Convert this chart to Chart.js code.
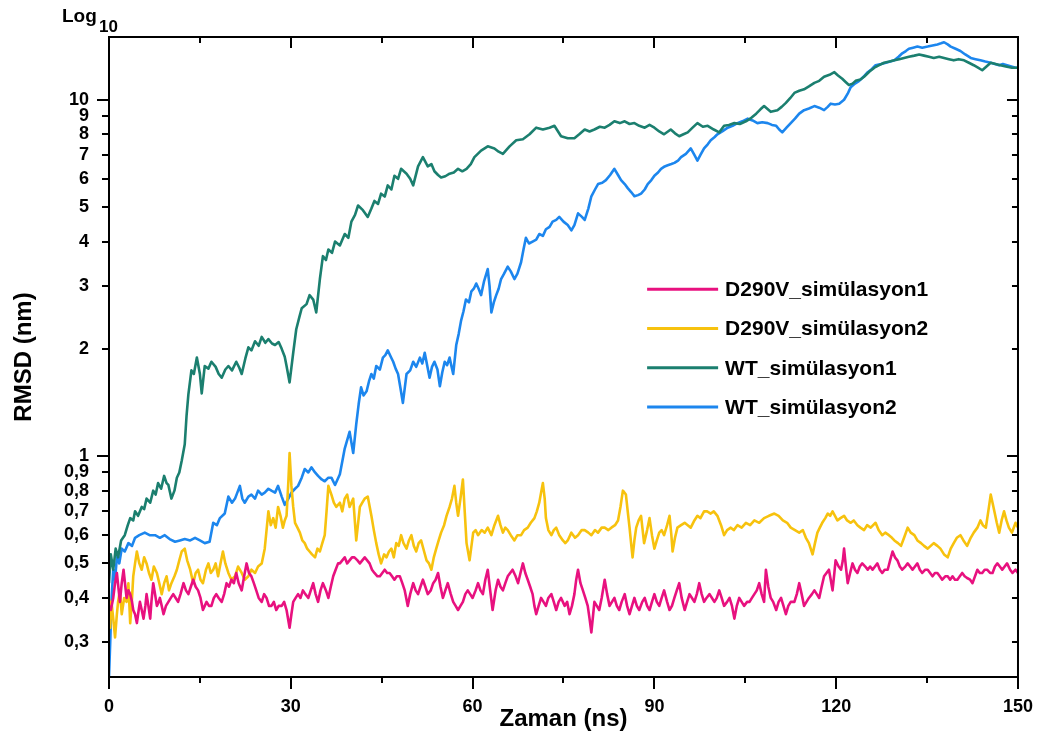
<!DOCTYPE html>
<html>
<head>
<meta charset="utf-8">
<script src="https://cdn.jsdelivr.net/npm/chart.js@4.4.1/dist/chart.umd.min.js"></script>
<style>
    html, body { margin: 0; padding: 0; background: #fff; }
</style>
</head>
<body>
<canvas id="rmsd-chart" width="1040" height="740"></canvas>
<script>
// RMSD (nm) vs time (ns) as [ns, nm] pairs
const d290vSim1 = [[0,0.38],[0.3,0.37],[0.7,0.40],[1.0,0.44],[1.3,0.47],[1.6,0.42],[1.8,0.39],[2.1,0.44],[2.4,0.48],[2.7,0.43],[2.9,0.40],[3.2,0.42],[3.5,0.41],[3.8,0.39],[4.0,0.37],[4.3,0.36],[4.6,0.34],[4.9,0.37],[5.1,0.39],[5.4,0.37],[5.7,0.35],[6.0,0.38],[6.2,0.41],[6.5,0.38],[6.8,0.35],[7.0,0.39],[7.3,0.44],[7.6,0.41],[7.9,0.38],[8.2,0.39],[8.4,0.40],[8.7,0.38],[9.0,0.36],[9.4,0.38],[9.8,0.39],[10.2,0.40],[10.6,0.41],[11.0,0.40],[11.4,0.39],[11.8,0.41],[12.3,0.44],[12.7,0.42],[13.1,0.41],[13.5,0.43],[13.9,0.45],[14.3,0.43],[14.7,0.42],[15.1,0.40],[15.5,0.37],[15.8,0.38],[16.1,0.39],[16.5,0.38],[16.9,0.38],[17.3,0.40],[17.7,0.41],[18.1,0.40],[18.6,0.39],[19.0,0.41],[19.4,0.44],[19.8,0.43],[20.2,0.45],[20.6,0.44],[21.0,0.47],[21.4,0.44],[21.9,0.42],[22.3,0.46],[22.7,0.50],[23.1,0.47],[23.5,0.46],[23.9,0.44],[24.3,0.42],[24.7,0.40],[25.2,0.39],[25.6,0.41],[26.0,0.40],[26.4,0.38],[26.8,0.38],[27.2,0.39],[27.6,0.37],[28.0,0.38],[28.5,0.38],[28.9,0.39],[29.3,0.37],[29.8,0.33],[30.1,0.36],[30.4,0.39],[30.8,0.40],[31.2,0.41],[31.6,0.40],[32.0,0.42],[32.4,0.41],[32.9,0.40],[33.3,0.42],[33.7,0.44],[34.1,0.41],[34.5,0.39],[34.9,0.42],[35.3,0.44],[35.8,0.42],[36.2,0.40],[36.6,0.43],[37.0,0.46],[37.4,0.48],[37.8,0.50],[38.1,0.50],[38.5,0.51],[38.9,0.52],[39.3,0.50],[39.7,0.51],[40.1,0.52],[40.5,0.52],[41.0,0.51],[41.4,0.50],[41.8,0.51],[42.2,0.52],[42.6,0.51],[43.0,0.50],[43.4,0.48],[43.8,0.47],[44.3,0.46],[44.7,0.46],[45.1,0.47],[45.5,0.48],[45.9,0.47],[46.3,0.47],[46.7,0.46],[47.1,0.45],[47.5,0.46],[48.0,0.46],[48.4,0.44],[48.8,0.42],[49.3,0.38],[49.7,0.41],[50.2,0.44],[50.6,0.42],[51.0,0.41],[51.4,0.43],[51.8,0.45],[52.2,0.43],[52.6,0.41],[53.1,0.42],[53.5,0.44],[53.9,0.45],[54.3,0.47],[54.7,0.43],[55.1,0.40],[55.5,0.42],[55.9,0.44],[56.4,0.41],[56.8,0.39],[57.2,0.38],[57.6,0.37],[58.0,0.38],[58.4,0.39],[58.8,0.41],[59.2,0.42],[59.6,0.41],[60.0,0.40],[60.5,0.42],[60.9,0.44],[61.3,0.42],[61.7,0.41],[62.1,0.45],[62.5,0.48],[62.9,0.42],[63.3,0.37],[63.8,0.42],[64.2,0.45],[64.6,0.43],[65.0,0.42],[65.4,0.44],[65.8,0.46],[66.2,0.47],[66.6,0.48],[67.1,0.46],[67.5,0.44],[67.9,0.47],[68.3,0.50],[68.7,0.47],[69.1,0.45],[69.5,0.43],[69.9,0.41],[70.2,0.38],[70.5,0.36],[70.9,0.38],[71.3,0.40],[71.7,0.39],[72.1,0.38],[72.5,0.40],[73.0,0.41],[73.4,0.39],[73.8,0.37],[74.2,0.39],[74.6,0.40],[75.2,0.38],[75.6,0.39],[76.0,0.36],[76.4,0.38],[76.8,0.41],[77.1,0.45],[77.4,0.48],[77.8,0.44],[78.2,0.42],[78.6,0.40],[79.0,0.38],[79.3,0.35],[79.6,0.32],[79.9,0.36],[80.1,0.39],[80.5,0.38],[80.9,0.37],[81.3,0.40],[81.8,0.45],[82.2,0.41],[82.6,0.38],[83.0,0.39],[83.4,0.40],[83.8,0.38],[84.2,0.37],[84.6,0.39],[85.1,0.41],[85.5,0.38],[85.9,0.36],[86.3,0.38],[86.7,0.40],[87.1,0.38],[87.5,0.37],[88.0,0.39],[88.4,0.40],[88.8,0.38],[89.2,0.37],[89.6,0.39],[90.0,0.41],[90.4,0.39],[90.8,0.38],[91.2,0.40],[91.6,0.42],[92.1,0.39],[92.5,0.37],[92.9,0.38],[93.3,0.40],[93.7,0.42],[94.1,0.44],[94.5,0.40],[95.0,0.37],[95.4,0.39],[95.8,0.41],[96.2,0.40],[96.6,0.39],[97.0,0.41],[97.4,0.44],[97.8,0.41],[98.2,0.39],[98.6,0.40],[99.1,0.41],[99.5,0.40],[99.9,0.39],[100.3,0.40],[100.7,0.42],[101.1,0.40],[101.5,0.38],[102.0,0.39],[102.4,0.40],[102.8,0.38],[103.2,0.35],[103.6,0.38],[104.0,0.40],[104.4,0.39],[104.8,0.38],[105.3,0.39],[105.7,0.39],[106.1,0.40],[106.5,0.41],[106.9,0.42],[107.3,0.44],[107.7,0.41],[108.1,0.39],[108.4,0.48],[108.8,0.43],[109.2,0.40],[109.6,0.39],[110.1,0.37],[110.5,0.39],[110.9,0.40],[111.3,0.38],[111.7,0.36],[112.1,0.38],[112.5,0.39],[113.1,0.39],[113.5,0.41],[113.9,0.44],[114.3,0.41],[114.7,0.38],[115.1,0.39],[115.5,0.40],[116.0,0.41],[116.4,0.42],[116.8,0.41],[117.2,0.40],[117.6,0.43],[118.0,0.46],[118.4,0.47],[118.8,0.48],[119.1,0.45],[119.4,0.42],[119.7,0.47],[119.9,0.51],[120.4,0.49],[120.8,0.48],[121.1,0.51],[121.3,0.55],[121.6,0.49],[121.9,0.44],[122.3,0.47],[122.7,0.50],[123.1,0.48],[123.5,0.47],[123.9,0.49],[124.3,0.50],[124.8,0.49],[125.2,0.48],[125.6,0.49],[126.0,0.48],[126.4,0.49],[126.8,0.50],[127.2,0.48],[127.6,0.47],[128.0,0.48],[128.5,0.48],[128.9,0.51],[129.3,0.54],[129.7,0.52],[130.1,0.51],[130.5,0.49],[130.9,0.48],[131.4,0.49],[131.8,0.50],[132.2,0.49],[132.6,0.48],[133.0,0.49],[133.4,0.50],[133.8,0.48],[134.2,0.47],[134.7,0.48],[135.1,0.48],[135.5,0.47],[135.9,0.46],[136.3,0.47],[136.7,0.47],[137.1,0.46],[137.5,0.45],[138.0,0.46],[138.4,0.46],[138.8,0.45],[139.2,0.46],[139.6,0.45],[140.0,0.45],[140.4,0.46],[140.8,0.47],[141.2,0.46],[141.6,0.455],[142.1,0.45],[142.5,0.44],[142.9,0.46],[143.3,0.48],[143.7,0.47],[144.1,0.47],[144.5,0.48],[144.9,0.48],[145.4,0.47],[145.8,0.47],[146.2,0.49],[146.6,0.50],[147.0,0.49],[147.4,0.48],[147.8,0.49],[148.2,0.50],[148.7,0.48],[149.1,0.47],[149.6,0.48],[150,0.47]];

const d290vSim2 = [[0,0.40],[0.2,0.33],[0.4,0.39],[0.7,0.35],[1.0,0.31],[1.3,0.36],[1.5,0.39],[1.8,0.42],[2.1,0.36],[2.5,0.40],[2.9,0.39],[3.2,0.44],[3.5,0.34],[3.8,0.40],[4.0,0.46],[4.3,0.50],[4.6,0.54],[5.0,0.50],[5.4,0.48],[5.8,0.52],[6.2,0.50],[6.6,0.47],[7.0,0.45],[7.4,0.49],[7.9,0.47],[8.3,0.44],[8.7,0.41],[9.1,0.44],[9.5,0.46],[9.9,0.42],[10.3,0.44],[10.8,0.46],[11.2,0.48],[11.6,0.51],[12.0,0.54],[12.5,0.55],[12.9,0.51],[13.4,0.48],[13.9,0.44],[14.3,0.47],[14.7,0.48],[15.1,0.45],[15.5,0.44],[16.0,0.48],[16.4,0.50],[16.8,0.47],[17.2,0.48],[17.6,0.50],[18.0,0.46],[18.4,0.50],[18.8,0.54],[19.2,0.50],[19.7,0.47],[20.2,0.45],[20.8,0.46],[21.3,0.49],[21.9,0.47],[22.4,0.45],[23.0,0.46],[23.5,0.48],[24.1,0.47],[24.6,0.49],[25.2,0.50],[25.7,0.55],[26.0,0.62],[26.3,0.70],[26.7,0.64],[27.1,0.67],[27.5,0.63],[27.9,0.72],[28.3,0.68],[28.7,0.63],[29.0,0.66],[29.3,0.68],[29.6,0.85],[29.8,1.02],[30.1,0.825],[30.4,0.72],[30.7,0.65],[31.1,0.63],[31.5,0.61],[31.9,0.58],[32.3,0.57],[32.7,0.55],[33.1,0.54],[33.5,0.53],[34.0,0.52],[34.4,0.55],[34.8,0.54],[35.2,0.57],[35.6,0.60],[35.9,0.70],[36.2,0.825],[36.7,0.78],[37.1,0.74],[37.5,0.72],[38.1,0.74],[38.5,0.70],[38.9,0.76],[39.3,0.78],[39.7,0.72],[40.3,0.76],[40.8,0.58],[41.4,0.72],[41.8,0.74],[42.2,0.76],[42.7,0.77],[43.3,0.68],[43.7,0.62],[44.1,0.57],[44.5,0.53],[44.9,0.50],[45.4,0.53],[45.8,0.52],[46.2,0.54],[46.6,0.55],[47.0,0.52],[47.4,0.57],[47.8,0.56],[48.2,0.60],[48.6,0.57],[49.1,0.55],[49.5,0.58],[49.9,0.60],[50.3,0.56],[50.7,0.54],[51.1,0.57],[51.5,0.58],[52.0,0.54],[52.4,0.51],[52.8,0.50],[53.2,0.48],[53.6,0.52],[54.0,0.55],[54.4,0.58],[54.8,0.61],[55.3,0.64],[55.7,0.68],[56.2,0.72],[56.6,0.76],[57.0,0.825],[57.3,0.74],[57.6,0.68],[58.0,0.76],[58.4,0.86],[58.7,0.70],[59.0,0.57],[59.5,0.51],[60.1,0.61],[60.5,0.62],[60.9,0.60],[61.5,0.62],[62.0,0.61],[62.5,0.63],[63.1,0.60],[63.6,0.64],[64.2,0.68],[64.6,0.64],[65.0,0.61],[65.4,0.63],[65.8,0.62],[66.3,0.60],[66.9,0.58],[67.4,0.60],[68.0,0.60],[68.5,0.62],[69.1,0.63],[69.6,0.65],[70.2,0.67],[70.6,0.70],[71.0,0.74],[71.3,0.79],[71.6,0.84],[71.9,0.76],[72.1,0.67],[72.5,0.62],[73.0,0.60],[73.4,0.62],[73.8,0.63],[74.3,0.60],[74.9,0.58],[75.3,0.57],[75.7,0.58],[76.3,0.61],[76.9,0.59],[77.4,0.60],[78.0,0.62],[78.5,0.62],[79.1,0.61],[79.6,0.60],[80.2,0.62],[80.7,0.61],[81.3,0.63],[81.8,0.63],[82.4,0.62],[82.9,0.63],[83.5,0.64],[84.0,0.66],[84.4,0.72],[84.8,0.80],[85.3,0.78],[85.6,0.70],[85.9,0.63],[86.2,0.56],[86.4,0.52],[86.7,0.58],[87.0,0.63],[87.4,0.66],[87.8,0.68],[88.3,0.57],[88.8,0.62],[89.2,0.67],[89.6,0.60],[90.0,0.55],[90.4,0.58],[90.8,0.61],[91.2,0.62],[91.6,0.60],[92.1,0.64],[92.5,0.68],[92.8,0.60],[93.0,0.54],[93.4,0.59],[93.8,0.63],[94.4,0.64],[95.0,0.65],[95.5,0.64],[96.0,0.63],[96.6,0.66],[97.1,0.68],[97.6,0.67],[98.2,0.70],[98.7,0.70],[99.3,0.69],[99.8,0.70],[100.4,0.68],[101.0,0.64],[101.5,0.60],[102.0,0.62],[102.6,0.63],[103.1,0.62],[103.7,0.64],[104.4,0.63],[105.1,0.65],[105.8,0.64],[106.5,0.66],[107.3,0.65],[108.1,0.67],[108.9,0.68],[109.8,0.69],[110.5,0.68],[111.2,0.66],[111.9,0.65],[112.5,0.63],[113.2,0.62],[113.9,0.61],[114.5,0.62],[115.0,0.59],[115.5,0.57],[116.1,0.53],[116.5,0.57],[116.9,0.61],[117.3,0.63],[117.7,0.65],[118.2,0.67],[118.6,0.69],[119.0,0.68],[119.4,0.70],[119.8,0.68],[120.2,0.66],[120.7,0.67],[121.3,0.68],[121.8,0.66],[122.4,0.65],[122.9,0.66],[123.5,0.64],[124.0,0.63],[124.6,0.62],[125.1,0.64],[125.7,0.63],[126.1,0.64],[126.5,0.65],[127.0,0.62],[127.6,0.60],[128.1,0.61],[128.7,0.60],[129.2,0.59],[129.6,0.58],[130.2,0.57],[130.7,0.56],[131.2,0.59],[131.8,0.63],[132.3,0.61],[132.9,0.60],[133.4,0.58],[134.0,0.57],[134.5,0.56],[135.1,0.55],[135.6,0.56],[136.1,0.57],[136.7,0.56],[137.2,0.55],[137.8,0.53],[138.4,0.52],[138.9,0.55],[139.4,0.57],[139.9,0.59],[140.5,0.60],[141.0,0.58],[141.6,0.56],[142.2,0.59],[142.7,0.61],[143.3,0.63],[143.8,0.66],[144.2,0.64],[144.7,0.63],[145.1,0.70],[145.5,0.78],[145.8,0.74],[146.1,0.70],[146.5,0.65],[146.9,0.61],[147.3,0.66],[147.7,0.70],[148.1,0.66],[148.5,0.63],[149.0,0.61],[149.6,0.65],[150,0.63]];

const wtSim1 = [[0,0.44],[0.3,0.53],[0.7,0.48],[1.1,0.55],[1.5,0.52],[2.0,0.58],[2.6,0.60],[3.1,0.64],[3.5,0.67],[4.0,0.66],[4.3,0.70],[4.8,0.68],[5.4,0.72],[5.8,0.71],[6.2,0.76],[6.8,0.74],[7.3,0.80],[7.7,0.78],[8.1,0.84],[8.6,0.81],[9.1,0.88],[9.5,0.84],[9.8,0.83],[10.3,0.76],[10.8,0.80],[11.2,0.87],[11.6,0.90],[12.0,0.97],[12.5,1.08],[12.8,1.30],[13.1,1.49],[13.6,1.74],[14.0,1.70],[14.5,1.89],[15.0,1.70],[15.3,1.50],[15.8,1.79],[16.4,1.76],[16.9,1.84],[17.6,1.78],[18.1,1.70],[18.6,1.66],[19.2,1.75],[19.7,1.79],[20.3,1.74],[21.0,1.84],[21.5,1.77],[21.9,1.70],[22.5,1.88],[23.0,2.02],[23.5,1.98],[24.1,2.10],[24.7,2.04],[25.2,2.16],[25.8,2.08],[26.3,2.13],[26.9,2.07],[27.4,2.05],[28.0,2.09],[28.5,2.00],[29.0,1.90],[29.3,1.79],[29.8,1.61],[30.4,1.95],[30.9,2.27],[31.4,2.45],[31.8,2.60],[32.6,2.67],[33.1,2.83],[33.7,2.75],[34.2,2.53],[34.8,3.14],[35.3,3.64],[35.8,3.55],[36.2,3.80],[36.8,3.72],[37.3,4.00],[38.1,3.90],[38.9,4.20],[39.5,4.10],[40.0,4.55],[40.6,4.75],[41.1,5.05],[41.9,4.90],[42.7,4.69],[43.3,4.95],[43.8,5.20],[44.4,5.10],[44.9,5.45],[45.5,5.35],[46.0,5.75],[46.6,5.60],[47.1,6.12],[47.7,6.00],[48.2,6.40],[49.1,6.20],[49.7,6.00],[50.2,5.75],[51.0,6.50],[51.8,6.90],[52.6,6.50],[53.2,6.60],[53.7,6.30],[54.3,6.15],[54.8,6.05],[55.5,6.10],[56.2,6.20],[56.9,6.25],[57.6,6.40],[58.3,6.30],[59.0,6.40],[59.7,6.60],[60.3,6.90],[61.4,7.20],[62.5,7.40],[63.6,7.30],[64.3,7.15],[65.0,7.05],[66.1,7.40],[67.2,7.70],[68.3,7.75],[69.4,8.00],[70.5,8.35],[71.6,8.25],[72.7,8.35],[73.5,8.45],[74.6,7.90],[75.7,7.80],[76.8,7.80],[77.6,8.00],[78.5,8.25],[79.3,8.15],[80.1,8.25],[81.0,8.40],[81.8,8.35],[82.6,8.50],[83.4,8.70],[84.3,8.60],[85.1,8.70],[85.9,8.55],[86.7,8.60],[87.5,8.45],[88.4,8.35],[89.2,8.50],[90.0,8.35],[90.8,8.15],[91.6,8.00],[92.7,8.25],[93.4,8.05],[94.1,7.90],[94.8,8.00],[95.5,8.10],[96.3,8.35],[97.1,8.60],[98.0,8.40],[98.8,8.45],[99.8,8.25],[100.7,8.10],[101.5,8.45],[102.3,8.50],[103.2,8.60],[104.1,8.55],[105.1,8.70],[106.0,8.90],[106.8,9.14],[107.5,9.40],[108.1,9.60],[109.2,9.25],[110.3,9.35],[111.0,9.55],[111.7,9.80],[112.4,10.1],[113.1,10.45],[113.9,10.6],[114.7,10.7],[115.5,10.9],[116.4,11.15],[117.2,11.3],[118.0,11.6],[118.9,11.75],[119.7,11.95],[120.3,11.7],[121.0,11.45],[121.6,11.2],[122.1,11.0],[122.7,11.1],[123.2,11.3],[124.0,11.4],[124.6,11.6],[125.5,12.0],[126.3,12.3],[127.1,12.5],[127.9,12.7],[128.8,12.8],[129.6,12.9],[130.4,13.0],[131.2,13.1],[132.0,13.2],[132.9,13.3],[133.7,13.4],[134.5,13.3],[135.3,13.2],[136.1,13.1],[137.0,13.2],[137.8,13.1],[138.6,13.0],[139.4,12.9],[140.2,13.0],[141.1,12.9],[141.9,12.7],[142.7,12.5],[143.4,12.3],[144.1,12.1],[144.8,12.4],[145.5,12.7],[146.3,12.6],[147.1,12.5],[148.0,12.4],[149.0,12.3],[150,12.3]];

const wtSim2 = [[0,0.24],[0.2,0.30],[0.4,0.39],[0.7,0.48],[1.0,0.45],[1.3,0.52],[1.7,0.50],[2.1,0.55],[2.6,0.54],[3.2,0.57],[3.8,0.56],[4.3,0.59],[5.0,0.60],[5.9,0.61],[6.7,0.60],[7.6,0.60],[8.4,0.59],[9.2,0.60],[10.0,0.585],[10.9,0.575],[11.7,0.58],[12.5,0.585],[13.4,0.58],[14.2,0.59],[15.0,0.58],[15.8,0.57],[16.6,0.575],[17.2,0.65],[17.8,0.64],[18.3,0.67],[19.1,0.69],[19.7,0.77],[20.3,0.74],[20.8,0.76],[21.6,0.825],[22.0,0.76],[22.4,0.74],[23.0,0.77],[23.5,0.78],[24.1,0.76],[24.6,0.80],[25.2,0.78],[25.7,0.79],[26.3,0.81],[26.8,0.80],[27.4,0.79],[27.9,0.825],[28.5,0.77],[29.0,0.73],[29.6,0.76],[30.1,0.79],[30.7,0.81],[31.2,0.825],[31.8,0.87],[32.3,0.92],[32.9,0.90],[33.4,0.93],[34.0,0.90],[34.5,0.88],[35.1,0.86],[35.6,0.85],[36.2,0.87],[36.7,0.87],[37.3,0.83],[38.1,0.89],[38.9,1.05],[39.7,1.17],[40.3,1.02],[40.8,1.23],[41.2,1.40],[41.6,1.56],[42.0,1.48],[42.5,1.52],[42.9,1.62],[43.3,1.70],[43.7,1.65],[44.1,1.79],[44.7,1.75],[45.2,1.89],[45.6,1.92],[46.0,1.98],[46.5,1.90],[46.9,1.84],[47.3,1.76],[47.7,1.70],[48.1,1.55],[48.5,1.41],[48.8,1.55],[49.1,1.70],[49.7,1.74],[50.2,1.84],[50.7,1.78],[51.3,1.89],[51.7,1.82],[52.1,1.95],[52.5,1.80],[52.9,1.66],[53.3,1.78],[53.7,1.84],[54.2,1.75],[54.6,1.57],[55.0,1.72],[55.4,1.84],[55.8,1.80],[56.2,1.89],[56.8,1.70],[57.3,2.05],[57.7,2.20],[58.1,2.40],[58.5,2.55],[58.9,2.75],[59.4,2.70],[59.8,2.90],[60.2,2.95],[60.6,3.05],[61.0,2.95],[61.4,2.83],[61.9,3.10],[62.5,3.35],[62.8,3.00],[63.1,2.53],[63.5,2.70],[63.9,2.83],[64.3,2.95],[64.7,3.14],[65.2,3.25],[65.8,3.40],[66.3,3.30],[66.9,3.14],[67.4,3.25],[68.0,3.50],[68.4,3.80],[68.8,4.10],[69.3,3.95],[69.9,4.00],[70.5,4.05],[71.0,4.20],[71.6,4.15],[72.1,4.33],[72.7,4.40],[73.2,4.55],[73.8,4.60],[74.3,4.69],[75.0,4.55],[75.7,4.45],[76.3,4.30],[76.8,4.45],[77.4,4.80],[78.0,4.70],[78.5,4.60],[79.1,4.95],[79.6,5.36],[80.2,5.60],[80.7,5.80],[81.4,5.85],[82.0,5.95],[82.7,6.15],[83.4,6.40],[84.0,6.15],[84.5,5.95],[85.1,5.80],[85.6,5.65],[86.2,5.50],[86.7,5.36],[87.3,5.40],[87.8,5.45],[88.4,5.60],[88.9,5.80],[89.5,5.95],[90.0,6.12],[90.6,6.25],[91.1,6.40],[91.7,6.50],[92.2,6.55],[92.8,6.60],[93.3,6.65],[93.9,6.75],[94.4,6.90],[95.2,7.05],[96.0,7.30],[96.6,7.00],[97.1,6.75],[97.6,7.00],[98.2,7.30],[98.8,7.50],[99.3,7.70],[99.9,7.85],[100.4,8.00],[101.2,8.15],[102.1,8.35],[102.9,8.45],[103.7,8.60],[104.5,8.70],[105.4,8.85],[106.2,8.75],[107.0,8.60],[107.8,8.65],[108.7,8.60],[109.4,8.50],[110.1,8.45],[110.6,8.25],[111.1,8.10],[111.8,8.35],[112.5,8.60],[113.2,8.85],[113.9,9.14],[114.7,9.35],[115.5,9.45],[116.4,9.60],[117.2,9.50],[118.0,9.35],[118.6,9.55],[119.1,9.75],[119.8,9.70],[120.5,9.75],[121.3,10.0],[121.9,10.4],[122.4,10.85],[123.1,11.1],[123.8,11.3],[124.5,11.6],[125.2,11.95],[125.9,12.2],[126.5,12.5],[127.4,12.6],[128.2,12.7],[128.9,12.8],[129.6,12.9],[130.3,13.2],[130.9,13.5],[131.5,13.7],[132.0,13.9],[132.7,14.0],[133.4,14.1],[134.2,14.0],[135.1,14.1],[135.9,14.2],[136.7,14.3],[137.3,14.4],[137.8,14.5],[138.4,14.3],[138.9,14.1],[139.7,13.9],[140.5,13.7],[141.3,13.4],[142.2,13.1],[143.0,13.0],[143.8,12.9],[144.6,12.8],[145.5,12.7],[146.2,12.6],[146.9,12.5],[147.5,12.6],[148.2,12.5],[148.9,12.4],[149.6,12.3],[150,12.3]];

const seriesNames = ['D290V_simülasyon1', 'D290V_simülasyon2', 'WT_simülasyon1', 'WT_simülasyon2'];
const seriesColors = ['#e8117f', '#f7c20e', '#1b7f6f', '#1c86ee'];
const seriesData = [d290vSim1, d290vSim2, wtSim1, wtSim2];

const yTicks = [0.3, 0.4, 0.5, 0.6, 0.7, 0.8, 0.9, 1, 2, 3, 4, 5, 6, 7, 8, 9, 10];
const yDecades = [1, 10];
const xMajor = [0, 30, 60, 90, 120, 150];
const xMinor = [15, 45, 75, 105, 135];

const fontFamily = '"Liberation Sans", Arial, Helvetica, sans-serif';
Chart.defaults.font.family = fontFamily;
Chart.defaults.color = '#000';

// frame with outside ticks on left/bottom, inside ticks on top/right
const framePlugin = {
    id: 'frame',
    afterDraw(chart) {
        const ctx = chart.ctx;
        const {left, right, top, bottom} = chart.chartArea;
        const xs = chart.scales.x;
        const ys = chart.scales.y;
        ctx.save();
        ctx.strokeStyle = '#000';
        ctx.lineWidth = 2;
        ctx.strokeRect(left, top, right - left, bottom - top);
        ctx.beginPath();
        for (const t of xMajor.concat(xMinor)) {
            const px = Math.round(xs.getPixelForValue(t));
            const major = xMajor.includes(t);
            ctx.moveTo(px, bottom);
            ctx.lineTo(px, bottom + (major ? 12 : 6));
            ctx.moveTo(px, top);
            ctx.lineTo(px, top + (major ? 11 : 6));
        }
        for (const v of yTicks) {
            const py = Math.round(ys.getPixelForValue(v));
            const major = yDecades.includes(v);
            ctx.moveTo(left, py);
            ctx.lineTo(left - (major ? 12 : 7), py);
            ctx.moveTo(right, py);
            ctx.lineTo(right - (major ? 11 : 6), py);
        }
        ctx.stroke();

        // "Log10" label above the y axis
        ctx.fillStyle = '#000';
        ctx.textBaseline = 'alphabetic';
        ctx.font = 'bold 19px ' + fontFamily;
        ctx.fillText('Log', 62, 22);
        ctx.font = 'bold 17px ' + fontFamily;
        ctx.fillText('10', 99, 32);
        ctx.restore();
    }
};

const legendPlugin = {
    id: 'innerLegend',
    afterDraw(chart) {
        const ctx = chart.ctx;
        const area = chart.chartArea;
        const x0 = area.left + (area.right - area.left) * 0.592;
        const y0 = area.top + (area.bottom - area.top) * 0.394;
        ctx.save();
        ctx.font = 'bold 21px ' + fontFamily;
        ctx.textBaseline = 'middle';
        chart.data.datasets.forEach((ds, i) => {
            const y = y0 + i * 39.3;
            ctx.strokeStyle = ds.borderColor;
            ctx.lineWidth = 3;
            ctx.beginPath();
            ctx.moveTo(x0, y);
            ctx.lineTo(x0 + 71, y);
            ctx.stroke();
            ctx.fillStyle = '#000';
            ctx.fillText(ds.label, x0 + 78, y + 1);
        });
        ctx.restore();
    }
};

const datasets = seriesNames.map((name, i) => ({
    label: name,
    data: seriesData[i].map(p => ({x: p[0], y: p[1]})),
    borderColor: seriesColors[i],
    backgroundColor: seriesColors[i],
    borderWidth: 2.6,
    borderJoinStyle: 'round',
    pointRadius: 0,
    tension: 0,
    fill: false
}));

const tickFont = {size: 18, weight: 'bold'};

const config = {
    type: 'line',
    data: {datasets: datasets},
    options: {
        responsive: false,
        animation: false,
        layout: {padding: {top: 37, right: 21, left: 0, bottom: 0}},
        plugins: {
            legend: {display: false},
            tooltip: {enabled: false}
        },
        scales: {
            x: {
                type: 'linear',
                min: 0,
                max: 150,
                afterBuildTicks: (scale) => { scale.ticks = xMajor.map(v => ({value: v})); },
                ticks: {color: '#000', font: tickFont, padding: 7, maxRotation: 0, autoSkip: false},
                grid: {color: 'rgba(0,0,0,0)', drawOnChartArea: false, drawTicks: true, tickLength: 12},
                border: {display: false},
                title: {
                    display: true,
                    text: 'Zaman (ns)',
                    color: '#000',
                    font: {size: 24, weight: 'bold'},
                    padding: {top: 0, bottom: 6}
                },
                afterFit: (scale) => { scale.height = 63; }
            },
            y: {
                type: 'logarithmic',
                min: 0.24,
                max: 15,
                afterBuildTicks: (scale) => { scale.ticks = yTicks.map(v => ({value: v})); },
                ticks: {
                    color: '#000',
                    font: tickFont,
                    padding: 8,
                    autoSkip: false,
                    callback: (value) => String(value).replace('.', ',')
                },
                grid: {color: 'rgba(0,0,0,0)', drawOnChartArea: false, drawTicks: true, tickLength: 12},
                border: {display: false},
                title: {
                    display: true,
                    text: 'RMSD (nm)',
                    color: '#000',
                    font: {size: 24, weight: 'bold'},
                    padding: {top: 10, bottom: 0}
                },
                afterFit: (scale) => { scale.width = 109; }
            }
        }
    },
    plugins: [framePlugin, legendPlugin]
};

const chart_canvas = document.getElementById('rmsd-chart');
const rmsd_chart = new Chart(chart_canvas, config);
</script>
</body>
</html>
